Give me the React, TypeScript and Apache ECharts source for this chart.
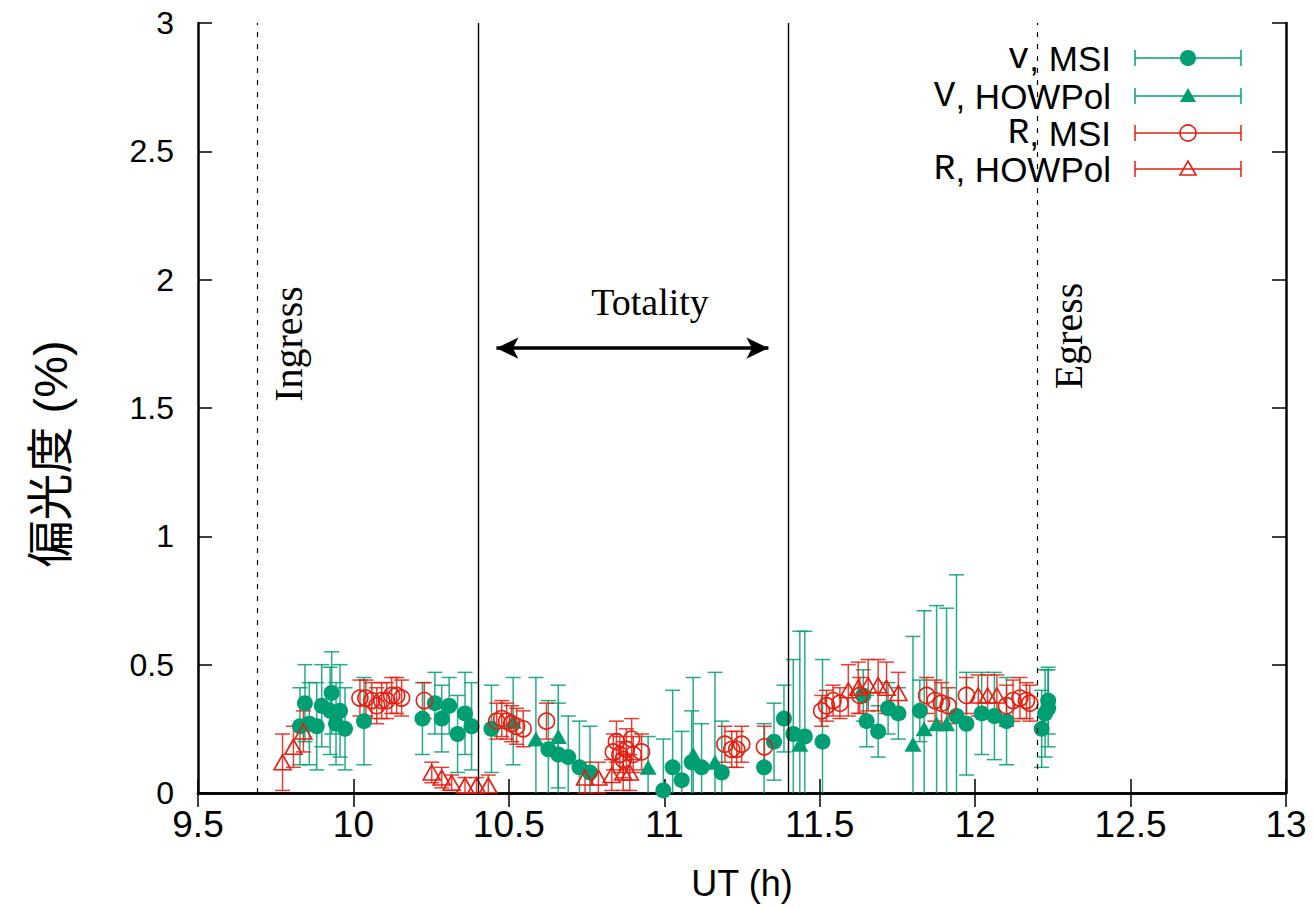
import React, { useEffect, useRef } from "react";
import * as echarts from "echarts";

const GREEN = "#009e73";
const RED = "#e51e10";

// V, MSI (filled circles): UT, polarization, error
const vMsiX = [9.828, 9.844, 9.858, 9.882, 9.898, 9.930, 9.925, 9.957, 9.944, 9.973, 10.034,
  10.222, 10.262, 10.284, 10.308, 10.335, 10.359, 10.380, 10.444,
  10.627, 10.659, 10.691, 10.727, 10.761,
  10.997, 11.027, 11.056, 11.088, 11.120, 11.185, 11.321, 11.353, 11.385, 11.415, 11.452, 11.509,
  11.640, 11.651, 11.688, 11.720, 11.753, 11.822, 11.940, 11.972, 12.021, 12.062, 12.101,
  12.214, 12.225, 12.235, 12.235];
const vMsiY = [0.26, 0.35, 0.27, 0.26, 0.34, 0.39, 0.32, 0.32, 0.27, 0.25, 0.28,
  0.29, 0.35, 0.29, 0.34, 0.23, 0.31, 0.26, 0.25,
  0.17, 0.15, 0.14, 0.10, 0.08,
  0.01, 0.10, 0.05, 0.12, 0.10, 0.08, 0.10, 0.20, 0.29, 0.23, 0.22, 0.20,
  0.38, 0.28, 0.24, 0.33, 0.31, 0.32, 0.30, 0.27, 0.31, 0.30, 0.28,
  0.25, 0.31, 0.36, 0.33];
const vMsiErr = [0.15, 0.15, 0.16, 0.17, 0.16, 0.16, 0.17, 0.18, 0.16, 0.16, 0.17,
  0.14, 0.12, 0.13, 0.11, 0.15, 0.16, 0.17, 0.17,
  0.19, 0.2, 0.16, 0.18, 0.18,
  0.2, 0.3, 0.19, 0.2, 0.17, 0.2, 0.17, 0.15, 0.13, 0.29, 0.41, 0.32,
  0.1, 0.1, 0.1, 0.1, 0.1, 0.12, 0.55, 0.2, 0.16, 0.17, 0.17,
  0.15, 0.17, 0.13, 0.15];

// V, HOWPol (filled triangles)
const vHowX = [10.514, 10.587, 10.659, 10.948, 11.093, 11.163, 11.436, 11.800, 11.836, 11.876, 11.908];
const vHowY = [0.28, 0.21, 0.22, 0.10, 0.15, 0.12, 0.19, 0.19, 0.25, 0.27, 0.27];
const vHowErr = [0.17, 0.24, 0.2, 0.12, 0.3, 0.35, 0.44, 0.42, 0.46, 0.46, 0.45];

// R, MSI (open circles)
const rMsiX = [10.021, 10.040, 10.059, 10.075, 10.091, 10.107, 10.123, 10.139, 10.155, 10.228,
  10.461, 10.477, 10.493, 10.509, 10.525, 10.546, 10.621,
  10.836, 10.846, 10.857, 10.868, 10.878, 10.895, 10.900, 10.927,
  11.195, 11.217, 11.233, 11.249, 11.322,
  11.506, 11.522, 11.543, 11.565, 11.629,
  11.844, 11.871, 11.892, 11.913, 11.972,
  12.101, 12.122, 12.144, 12.165, 12.176];
const rMsiY = [0.37, 0.37, 0.36, 0.34, 0.36, 0.36, 0.38, 0.38, 0.37, 0.36,
  0.28, 0.29, 0.28, 0.27, 0.26, 0.25, 0.28,
  0.16, 0.20, 0.15, 0.13, 0.17, 0.21, 0.15, 0.16,
  0.19, 0.17, 0.17, 0.19, 0.18,
  0.32, 0.34, 0.36, 0.35, 0.38,
  0.38, 0.36, 0.35, 0.34, 0.38,
  0.34, 0.36, 0.37, 0.36, 0.35];
const rMsiErr = [0.07, 0.07, 0.07, 0.07, 0.07, 0.07, 0.07, 0.07, 0.07, 0.07,
  0.07, 0.07, 0.07, 0.07, 0.07, 0.07, 0.07,
  0.07, 0.08, 0.07, 0.07, 0.08, 0.08, 0.07, 0.07,
  0.07, 0.07, 0.07, 0.07, 0.08,
  0.06, 0.06, 0.06, 0.06, 0.07,
  0.07, 0.08, 0.08, 0.07, 0.07,
  0.08, 0.08, 0.08, 0.07, 0.07];

// R, HOWPol (open triangles)
const rHowX = [9.772, 9.807, 9.839, 10.252, 10.284, 10.316, 10.359, 10.396, 10.434,
  10.745, 10.788, 10.831, 10.868, 10.889,
  11.592, 11.624, 11.656, 11.688, 11.715, 11.753, 12.010, 12.040, 12.070];
const rHowY = [0.12, 0.18, 0.24, 0.08, 0.06, 0.04, 0.03, 0.03, 0.03,
  0.06, 0.06, 0.07, 0.08, 0.08,
  0.40, 0.41, 0.42, 0.42, 0.41, 0.39, 0.38, 0.38, 0.38];
const rHowErr = [0.11, 0.08, 0.08, 0.04, 0.04, 0.03, 0.03, 0.03, 0.04,
  0.06, 0.06, 0.06, 0.07, 0.07,
  0.1, 0.1, 0.1, 0.1, 0.1, 0.08, 0.08, 0.08, 0.08];

// Event markers (UT hours)
const ingressX = 9.69;
const totalityStartX = 10.40;
const totalityEndX = 11.40;
const egressX = 12.20;
const arrowX = [10.46, 11.335];
const arrowY = 1.733;

const X_MIN = 9.5, X_MAX = 13, Y_MIN = 0, Y_MAX = 3;

function zip(x: number[], y: number[], e: number[]) {
  return x.map((v, i) => [v, y[i], e[i]]);
}

function errorBars(name: string, data: number[][], color: string) {
  return {
    type: "custom",
    name,
    data,
    encode: { x: 0, y: 1 },
    silent: true,
    renderItem: (_p: any, api: any) => {
      const x = api.value(0), y = api.value(1), e = api.value(2);
      const loV = y - e, hiV = y + e;
      const lo = api.coord([x, Math.max(Y_MIN, loV)]);
      const hi = api.coord([x, Math.min(Y_MAX, hiV)]);
      const cw = 7.5;
      const st = { stroke: color, lineWidth: 1.5, opacity: 0.85 };
      const children: any[] = [
        { type: "line", shape: { x1: lo[0], y1: lo[1], x2: hi[0], y2: hi[1] }, style: st },
      ];
      if (loV >= Y_MIN) children.push({ type: "line", shape: { x1: lo[0] - cw, y1: lo[1], x2: lo[0] + cw, y2: lo[1] }, style: st });
      if (hiV <= Y_MAX) children.push({ type: "line", shape: { x1: hi[0] - cw, y1: hi[1], x2: hi[0] + cw, y2: hi[1] }, style: st });
      return { type: "group", children };
    },
  };
}

function points(name: string, x: number[], y: number[], symbol: string, size: any, color: string, filled: boolean) {
  return {
    type: "scatter",
    name,
    data: x.map((v, i) => [v, y[i]]),
    symbol,
    symbolSize: size,
    silent: true,
    itemStyle: filled
      ? { color, opacity: 1 }
      : { color: "rgba(0,0,0,0)", borderColor: color, borderWidth: 1.6, opacity: 1 },
  };
}

const SANS = "'Liberation Sans', Arial, Helvetica, sans-serif";
const SERIF = "'Liberation Serif', 'Times New Roman', serif";
const MONO = "'Liberation Mono', 'Courier New', 'DejaVu Sans Mono', monospace";

function legendRow(label: string, rest: string, y: number, color: string, marker: any) {
  const x1 = 1135, x2 = 1241, xm = 1188, cap = 8;
  const st = { stroke: color, lineWidth: 1.5 };
  return [
    {
      type: "text", x: 1111, y,
      style: {
        text: `{m|${label}}{s|${rest}}`,
        align: "right", verticalAlign: "middle",
        rich: {
          m: { fontFamily: MONO, fontSize: 36, fill: "#000" },
          s: { fontFamily: SANS, fontSize: 35, fill: "#000" },
        },
      },
    },
    { type: "line", shape: { x1, y1: y, x2, y2: y }, style: st },
    { type: "line", shape: { x1, y1: y - cap, x2: x1, y2: y + cap }, style: st },
    { type: "line", shape: { x1: x2, y1: y - cap, x2, y2: y + cap }, style: st },
    { ...marker, x: xm, y },
  ];
}

export default function App() {
  const ref = useRef<HTMLDivElement>(null);
  useEffect(() => {
    if (!ref.current) return;
    const chart = echarts.init(ref.current, undefined, { renderer: "svg" });
    const axisLine = { show: true, lineStyle: { color: "#000", width: 2.5 } };
    const axisTick = { show: true, inside: true, length: 14, lineStyle: { color: "#000", width: 1.5 } };

    const triFilled = (c: string) => ({ type: "polygon", shape: { points: [[0, -8], [8, 6], [-8, 6]] }, style: { fill: c } });
    const triOpen = (c: string) => ({ type: "polygon", shape: { points: [[0, -8], [8, 6], [-8, 6]] }, style: { fill: "none", stroke: c, lineWidth: 1.6 } });
    const circFilled = (c: string) => ({ type: "circle", shape: { cx: 0, cy: 0, r: 8 }, style: { fill: c } });
    const circOpen = (c: string) => ({ type: "circle", shape: { cx: 0, cy: 0, r: 8 }, style: { fill: "none", stroke: c, lineWidth: 1.6 } });

    chart.setOption({
      animation: false,
      backgroundColor: "#fff",
      grid: { left: 198, top: 23, width: 1088, height: 770, containLabel: false },
      xAxis: [
        {
          type: "value", min: X_MIN, max: X_MAX, interval: 0.5, position: "bottom",
          axisLine, axisTick, splitLine: { show: false },
          axisLabel: { color: "#000", fontSize: 37, fontFamily: SANS, margin: 13 },
          name: "UT (h)", nameLocation: "middle", nameGap: 72,
          nameTextStyle: { color: "#000", fontSize: 36, fontFamily: SANS },
        },
        {
          type: "value", min: X_MIN, max: X_MAX, interval: 0.5, position: "top",
          axisLine, axisTick, splitLine: { show: false }, axisLabel: { show: false },
        },
      ],
      yAxis: [
        {
          type: "value", min: Y_MIN, max: Y_MAX, interval: 0.5, position: "left",
          axisLine, axisTick, splitLine: { show: false },
          axisLabel: { color: "#000", fontSize: 32, fontFamily: SANS, margin: 24 },
        },
        {
          type: "value", min: Y_MIN, max: Y_MAX, interval: 0.5, position: "right",
          axisLine, axisTick, splitLine: { show: false }, axisLabel: { show: false },
        },
      ],
      series: [
        {
          type: "scatter", data: [], silent: true,
          markLine: {
            silent: true, symbol: "none", label: { show: false },
            data: [
              { xAxis: ingressX, lineStyle: { type: [5, 7], width: 1.2, color: "#000" } },
              { xAxis: totalityStartX, lineStyle: { type: "solid", width: 1.4, color: "#000" } },
              { xAxis: totalityEndX, lineStyle: { type: "solid", width: 1.4, color: "#000" } },
              { xAxis: egressX, lineStyle: { type: [5, 7], width: 1.2, color: "#000" } },
            ],
          },
        },
        {
          type: "scatter", data: [], silent: true,
          markLine: {
            silent: true, symbol: ["arrow", "arrow"], symbolSize: [16, 22], label: { show: false },
            lineStyle: { type: "solid", width: 3.5, color: "#000" },
            data: [[{ coord: [arrowX[0], arrowY] }, { coord: [arrowX[1], arrowY] }]],
          },
        },
        errorBars("V, MSI err", zip(vMsiX, vMsiY, vMsiErr), GREEN),
        points("V, MSI", vMsiX, vMsiY, "circle", 16, GREEN, true),
        errorBars("V, HOWPol err", zip(vHowX, vHowY, vHowErr), GREEN),
        points("V, HOWPol", vHowX, vHowY, "triangle", [17, 15], GREEN, true),
        errorBars("R, MSI err", zip(rMsiX, rMsiY, rMsiErr), RED),
        points("R, MSI", rMsiX, rMsiY, "circle", 16, RED, false),
        errorBars("R, HOWPol err", zip(rHowX, rHowY, rHowErr), RED),
        points("R, HOWPol", rHowX, rHowY, "triangle", [17, 15], RED, false),
      ],
      graphic: [
        {
          type: "text", x: 50, y: 454, rotation: Math.PI / 2,
          style: {
            text: "偏光度 (%)", align: "center", verticalAlign: "middle",
            fontSize: 47, fill: "#000",
            fontFamily: "'Liberation Sans', 'Noto Sans CJK JP', sans-serif",
          },
        },
        {
          type: "text", x: 288, y: 344, rotation: Math.PI / 2,
          style: { text: "Ingress", align: "center", verticalAlign: "middle", fontSize: 40, fontFamily: SERIF, fill: "#000" },
        },
        {
          type: "text", x: 1068, y: 336, rotation: Math.PI / 2,
          style: { text: "Egress", align: "center", verticalAlign: "middle", fontSize: 40, fontFamily: SERIF, fill: "#000" },
        },
        {
          type: "text", x: 650, y: 302,
          style: { text: "Totality", align: "center", verticalAlign: "middle", fontSize: 38, fontFamily: SERIF, fill: "#000" },
        },
        ...legendRow("v", ", MSI", 58, GREEN, circFilled(GREEN)),
        ...legendRow("V", ", HOWPol", 96, GREEN, triFilled(GREEN)),
        ...legendRow("R", ", MSI", 133, RED, circOpen(RED)),
        ...legendRow("R", ", HOWPol", 169, RED, triOpen(RED)),
      ],
    });
    return () => chart.dispose();
  }, []);
  return (
    <div
      ref={ref}
      style={{ position: "absolute", left: 0, top: 0, width: 1314, height: 907, background: "#fff" }}
    />
  );
}
